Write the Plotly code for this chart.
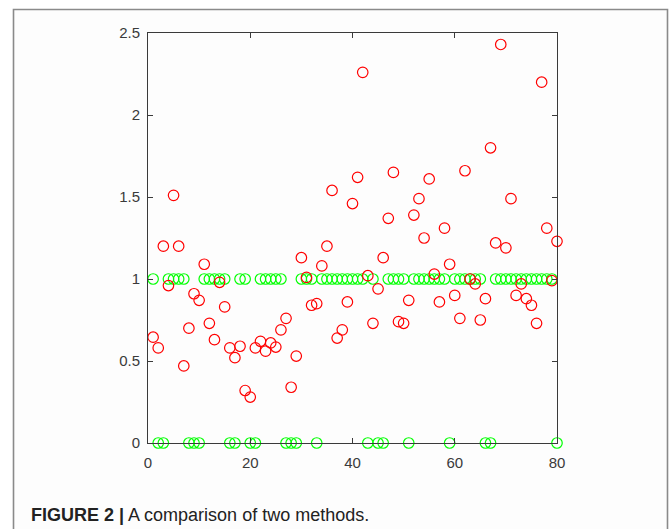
import plotly.graph_objects as go

idx = list(range(1, 81))
red_vals = [0.645, 0.58, 1.20, 0.96, 1.51, 1.20, 0.47, 0.70, 0.91, 0.87,
            1.09, 0.73, 0.63, 0.98, 0.83, 0.58, 0.52, 0.59, 0.32, 0.28,
            0.58, 0.62, 0.56, 0.61, 0.585, 0.69, 0.76, 0.34, 0.53, 1.13,
            1.01, 0.84, 0.85, 1.08, 1.20, 1.54, 0.64, 0.69, 0.86, 1.46,
            1.62, 2.26, 1.02, 0.73, 0.94, 1.13, 1.37, 1.65, 0.74, 0.73,
            0.87, 1.39, 1.49, 1.25, 1.61, 1.03, 0.86, 1.31, 1.09, 0.90,
            0.76, 1.66, 1.00, 0.97, 0.75, 0.88, 1.80, 1.22, 2.43, 1.19,
            1.49, 0.90, 0.97, 0.88, 0.84, 0.73, 2.20, 1.31, 0.99, 1.23]
green_zero_idx = [2, 3, 8, 9, 10, 16, 17, 20, 21, 27, 28, 29, 33, 43, 45, 46, 51, 59, 66, 67, 80]
green_vals = [0 if i in green_zero_idx else 1 for i in idx]

x_ticks = [0, 20, 40, 60, 80]
y_ticks = [0, 0.5, 1, 1.5, 2, 2.5]
y_tick_text = ["0", "0.5", "1", "1.5", "2", "2.5"]

W, H = 671, 529
L, R, T, B = 148, 557, 33, 443

fig = go.Figure()
fig.add_trace(go.Scatter(x=idx, y=green_vals, mode="markers", cliponaxis=False,
                         marker=dict(symbol="circle-open", size=10.5, color="#00ff00",
                                     line=dict(width=1.2, color="#00ff00")),
                         showlegend=False))
fig.add_trace(go.Scatter(x=idx, y=red_vals, mode="markers", cliponaxis=False,
                         marker=dict(symbol="circle-open", size=10.5, color="#ff0000",
                                     line=dict(width=1.2, color="#ff0000")),
                         showlegend=False))

def px_x(p):
    return (p - L) / (R - L)

def px_y(p):
    return (B - p) / (B - T)

fig.add_shape(type="rect", xref="paper", yref="paper",
              x0=px_x(13.5), x1=px_x(667.5), y0=px_y(540), y1=px_y(9.5),
              line=dict(color="#8a8a8a", width=1.6), fillcolor="#fdfdfd", layer="below")

fig.add_annotation(xref="paper", yref="paper", x=px_x(29), y=px_y(515),
                   xanchor="left", yanchor="middle", showarrow=False,
                   text="<b>FIGURE 2 |</b> A comparison of two methods.",
                   font=dict(family="Liberation Sans", size=18, color="#222222"))

axis_common = dict(showline=True, linecolor="#3a3a3a", linewidth=1, mirror="ticks",
                   ticks="inside", ticklen=5, tickcolor="#3a3a3a", tickwidth=1,
                   showgrid=False, zeroline=False,
                   tickfont=dict(family="Liberation Sans", size=15, color="#3a3a3a"))

fig.update_xaxes(range=[0, 80], tickvals=x_ticks, ticktext=[str(v) for v in x_ticks],
                 ticklabelstandoff=6, **axis_common)
fig.update_yaxes(range=[0, 2.5], tickvals=y_ticks, ticktext=y_tick_text,
                 ticklabelstandoff=4, **axis_common)

fig.update_layout(width=W, height=H, margin=dict(l=L, r=W - R, t=T, b=H - B),
                  paper_bgcolor="white", plot_bgcolor="white", showlegend=False)

fig.write_html("out.html")
